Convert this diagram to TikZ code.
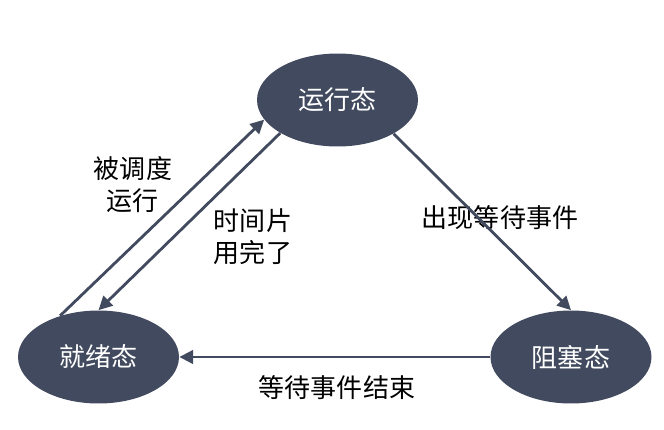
\documentclass[tikz,border=0pt]{standalone}
\usepackage{fontspec}
\setmainfont{Noto Sans CJK SC}
\usepackage{xcolor}
\usepackage{tikz}
\usetikzlibrary{arrows.meta, positioning, shapes.geometric}
\definecolor{slate}{RGB}{65,74,94}

\begin{document}
\begin{tikzpicture}[
    x=0.02cm, y=-0.02cm,
    state/.style={
        ellipse,
        fill=slate,
        draw=none,
        inner sep=0pt,
        minimum width=3.22cm,
        minimum height=1.86cm,
        font=\fontsize{14.8}{18}\selectfont,
        text=white
    },
    note/.style={
        inner sep=0pt,
        font=\fontsize{14.8}{18.2}\selectfont,
        text=black
    },
    arrow/.style={-{Triangle[length=7.8pt, width=7.6pt]}, line width=1.6pt, draw=slate}
]

\useasboundingbox (0,0) rectangle (664,430);

\node[state] (running) at (337.5,100) {运行态};
\node[state] (ready) at (98.5,357) {就绪态};
\node[state] (blocked) at (571,357) {阻塞态};

\node[note, align=center] (dispatch) at (133,185) {被调度\\运行};
\node[note, align=left] (timeout) at (253,237) {时间片\\用完了};
\node[note] (wait) at (500,218) {出现等待事件};
\node[note] (wakeup) at (337,388) {等待事件结束};

\draw[arrow] (ready.133) -- (running.195.4);
\draw[arrow] (running.210.7) -- (ready.90);
\draw[arrow] (running.329.3) -- (blocked.90);
\draw[arrow] (blocked) -- (ready);

\end{tikzpicture}
\end{document}
